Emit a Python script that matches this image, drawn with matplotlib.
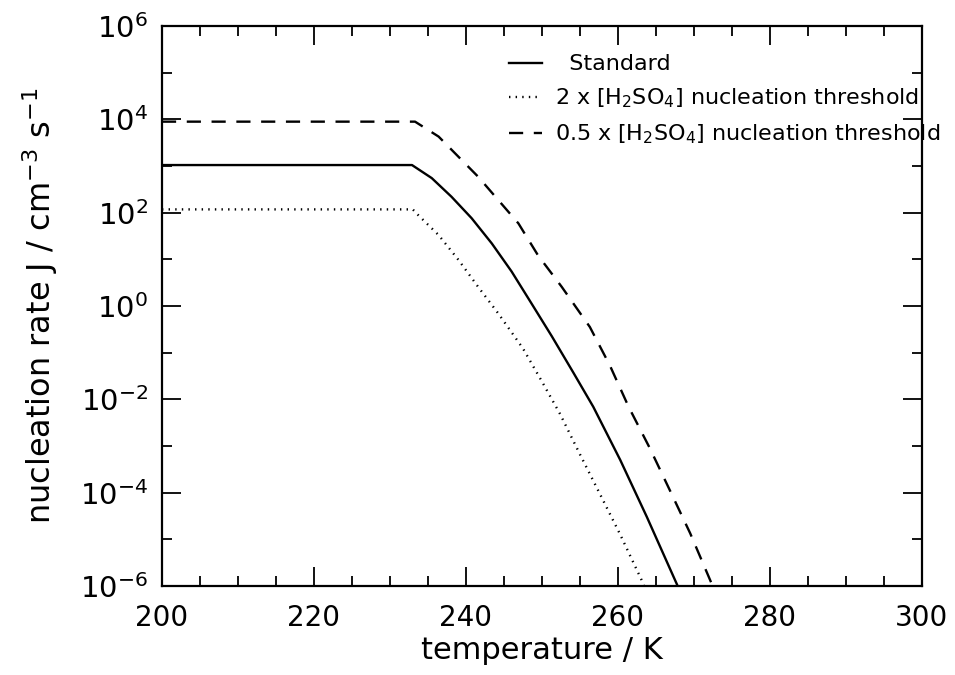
import numpy as np
import matplotlib
matplotlib.use("Agg")
import matplotlib.pyplot as plt
from matplotlib.ticker import FixedLocator, MultipleLocator, NullFormatter

# temperature (K) and log10 nucleation rate
t_std = [200.0, 232.9, 235.5, 238.1, 240.75, 243.4, 246.0, 248.6, 251.3, 254.1,
         256.75, 260.3, 263.8, 267.8, 268.5]
logj_std = [3.02, 3.02, 2.74, 2.34, 1.88, 1.34, 0.74, 0.06, -0.65, -1.42,
            -2.16, -3.30, -4.52, -5.98, -6.25]

t_2x = [200.0, 233.0, 233.7, 236.4, 239.0, 241.6, 244.25, 247.5, 250.0, 252.4,
        255.0, 257.6, 260.3, 263.1, 263.9]
logj_2x = [2.07, 2.07, 1.95, 1.52, 0.99, 0.41, -0.16, -0.91, -1.62, -2.32,
           -3.18, -4.02, -4.90, -5.87, -6.2]

t_half = [200.0, 233.3, 236.4, 239.0, 241.6, 244.25, 246.9, 249.5, 252.6, 256.3,
          258.95, 261.4, 264.2, 266.8, 269.5, 272.3, 272.8]
logj_half = [3.95, 3.95, 3.63, 3.20, 2.77, 2.27, 1.77, 1.08, 0.41, -0.45,
             -1.28, -2.16, -3.05, -3.94, -4.87, -5.94, -6.2]

labels = ["  Standard",
          r"2 x [H$_2$SO$_4$] nucleation threshold",
          r"0.5 x [H$_2$SO$_4$] nucleation threshold"]

plt.rcParams["font.family"] = "DejaVu Sans"
plt.rcParams["mathtext.fontset"] = "dejavusans"

fig = plt.figure(figsize=(9.55, 6.75), dpi=100)
ax = fig.add_axes([0.1696, 0.1319, 0.7958, 0.8296])

ax.plot(t_std, 10 ** np.array(logj_std), c="black", lw=1.7, label=labels[0])
ax.plot(t_2x, 10 ** np.array(logj_2x), c="black", lw=1.7, ls=(0, (0.6, 2.2)), label=labels[1])
ax.plot(t_half, 10 ** np.array(logj_half), c="black", lw=1.7, ls=(0, (6, 4.5)), label=labels[2])

ax.set_yscale("log")
ax.set_xlim(200, 300)
ax.set_ylim(1e-6, 1e6)

ax.xaxis.set_major_locator(MultipleLocator(20))
ax.xaxis.set_minor_locator(MultipleLocator(5))
ax.yaxis.set_major_locator(FixedLocator([10.0 ** k for k in range(-6, 7, 2)]))
ax.yaxis.set_minor_locator(FixedLocator([10.0 ** k for k in range(-5, 6, 2)]))
ax.yaxis.set_minor_formatter(NullFormatter())
ax.set_yticklabels([r"$10^{%d}$" % k for k in range(-6, 7, 2)])

ax.tick_params(which="both", direction="in", top=True, right=True, width=1.3)
ax.tick_params(which="major", length=14)
ax.tick_params(which="minor", length=7)
ax.tick_params(axis="x", labelsize=20, pad=13)
ax.tick_params(axis="y", labelsize=21, pad=10)
for s in ax.spines.values():
    s.set_linewidth(1.6)

ax.set_xlabel("temperature / K", fontsize=22, labelpad=3)
ax.set_ylabel(r"nucleation rate J / cm$^{-3}$ s$^{-1}$", fontsize=23, labelpad=14)

ax.legend(loc="upper left", bbox_to_anchor=(0.43, 0.985), frameon=False,
          fontsize=16, handlelength=1.5, handletextpad=0.6, labelspacing=0.55)

fig.savefig("out.png", dpi=100)
